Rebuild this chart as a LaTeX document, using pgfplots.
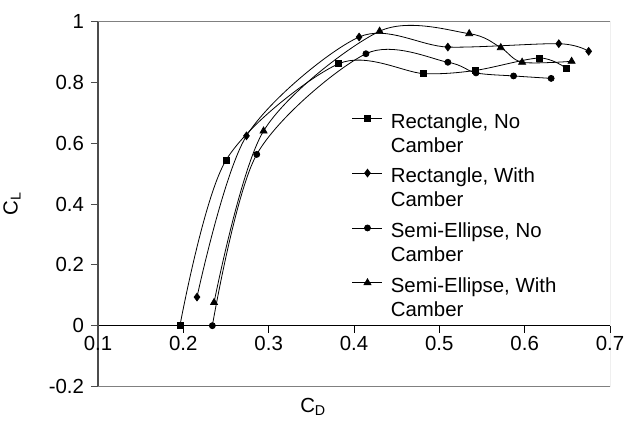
\documentclass[border=0pt]{standalone}
\usepackage{fontspec}
\setmainfont{Liberation Sans}
\usepackage{pgfplots}
\pgfplotsset{compat=1.18}
\begin{document}
\fontsize{20.4}{24}\selectfont
\begin{tikzpicture}
\path[use as bounding box] (-98pt,-37.5pt) rectangle (531pt,386.5pt);
\begin{axis}[
  scale only axis, width=512pt, height=365pt,
  xmin=0.1, xmax=0.7, ymin=-0.2, ymax=1,
  axis x line=middle, axis y line=left,
  x axis line style={-, black, line width=0.8pt},
  y axis line style={-, black!70, line width=1.6pt},
  xtick={0.1,0.2,0.3,0.4,0.5,0.6,0.7},
  ytick={-0.2,0,0.2,0.4,0.6,0.8,1},
  hide obscured x ticks=false, hide obscured y ticks=false,
  tick align=outside, major tick length=7pt,
  x tick style={black, line width=0.8pt},
  y tick style={black!70, line width=0.8pt},
  xticklabel style={yshift=3pt},
  /pgf/number format/assume math mode=true,
  xlabel={C\textsubscript{D}}, ylabel={C\textsubscript{L}},
  xlabel style={at={(axis description cs:0.42,-0.055)}, anchor=center},
  ylabel style={at={(axis description cs:-0.168,0.5)}, anchor=center, rotate=0},
  legend image code/.code={\draw[mark repeat=2,mark phase=2,#1] plot coordinates {(0pt,3pt)(15pt,3pt)(30pt,3pt)};},
  legend cell align=left,
  legend style={draw=none, fill=none, at={(rel axis cs:0.490,0.760)}, anchor=north west,
    nodes={inner sep=0pt}, column sep=8pt, row sep=35pt},
  every axis plot/.append style={black, line width=0.8pt, smooth},
]
\draw[gray, line width=0.8pt] (rel axis cs:0,0) -- (rel axis cs:1,0) -- (rel axis cs:1,1) -- (rel axis cs:0,1);
\addplot[mark=square*, mark size=3pt, mark options={solid}] coordinates {
 (0.196,0) (0.250,0.544) (0.382,0.861) (0.481,0.829) (0.542,0.839) (0.617,0.880) (0.649,0.846)};
\addlegendentry{\begin{tabular}[t]{@{}l@{}}Rectangle, No\\Camber\end{tabular}}
\addplot[mark=diamond*, mark size=3.8pt] coordinates {
 (0.216,0.094) (0.274,0.624) (0.406,0.949) (0.510,0.916) (0.640,0.927) (0.675,0.902)};
\addlegendentry{\begin{tabular}[t]{@{}l@{}}Rectangle, With\\Camber\end{tabular}}
\addplot[mark=*, mark size=3pt] coordinates {
 (0.234,0) (0.286,0.563) (0.414,0.894) (0.510,0.866) (0.543,0.831) (0.587,0.821) (0.631,0.813)};
\addlegendentry{\begin{tabular}[t]{@{}l@{}}Semi-Ellipse, No\\Camber\end{tabular}}
\addplot[mark=triangle*, mark size=4pt] coordinates {
 (0.236,0.076) (0.294,0.640) (0.430,0.968) (0.535,0.960) (0.572,0.914) (0.597,0.866) (0.655,0.869)};
\addlegendentry{\begin{tabular}[t]{@{}l@{}}Semi-Ellipse, With\\Camber\end{tabular}}
\end{axis}
\end{tikzpicture}
\end{document}
